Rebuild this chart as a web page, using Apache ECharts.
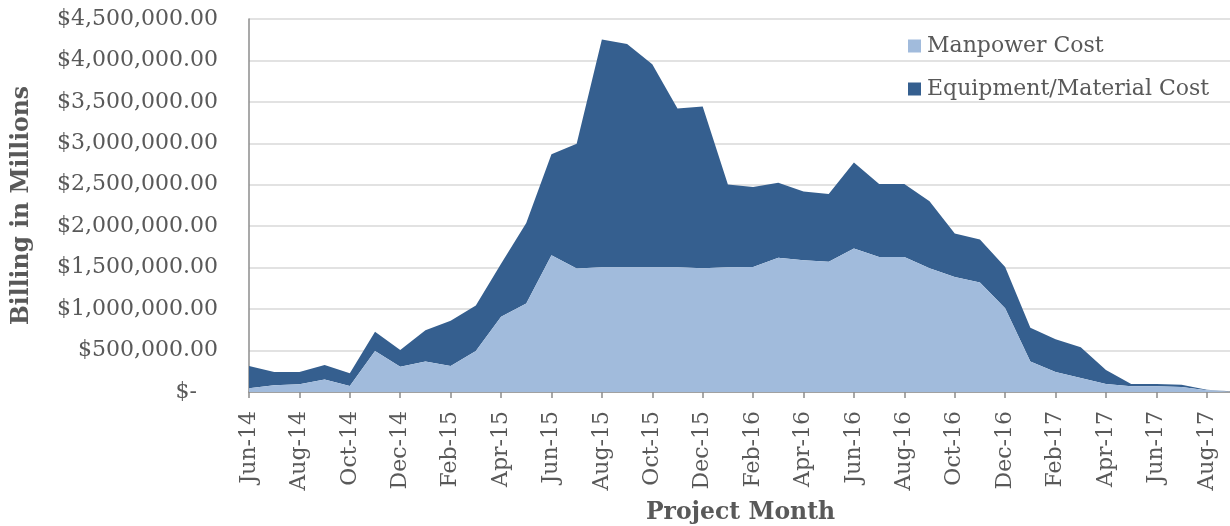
<!DOCTYPE html>
<html>
<head>
<meta charset="utf-8">
<title>Project Billing</title>
<script src="https://cdn.jsdelivr.net/npm/echarts@6/dist/echarts.min.js"></script>
<style>
  html, body { margin: 0; padding: 0; background: #ffffff; }
  #chart { width: 1230px; height: 526px; }
</style>
</head>
<body>
<div id="chart"></div>
<script>
// Project months, one point per month
const months = [
  'Jun-14','Jul-14','Aug-14','Sep-14','Oct-14','Nov-14','Dec-14','Jan-15','Feb-15','Mar-15',
  'Apr-15','May-15','Jun-15','Jul-15','Aug-15','Sep-15','Oct-15','Nov-15','Dec-15','Jan-16',
  'Feb-16','Mar-16','Apr-16','May-16','Jun-16','Jul-16','Aug-16','Sep-16','Oct-16','Nov-16',
  'Dec-16','Jan-17','Feb-17','Mar-17','Apr-17','May-17','Jun-17','Jul-17','Aug-17','Sep-17'
];

// Monthly manpower billing (USD)
const manpowerCost = [
  45000, 80000, 92000, 152000, 72000, 494000, 305000, 369000, 313000, 494000,
  909000, 1067000, 1649000, 1489000, 1505000, 1505000, 1505000, 1505000, 1493000, 1505000,
  1508000, 1620000, 1588000, 1572000, 1732000, 1628000, 1628000, 1492000, 1388000, 1320000,
  1010000, 368000, 240000, 168000, 96000, 68000, 68000, 60000, 20000, 4000
];

// Monthly equipment / material billing (USD)
const equipmentCost = [
  268000, 161000, 149000, 173000, 153000, 232000, 201000, 377000, 546000, 549000,
  637000, 972000, 1220000, 1505000, 2749000, 2693000, 2448000, 1914000, 1950000, 999000,
  964000, 904000, 832000, 816000, 1036000, 880000, 880000, 808000, 524000, 520000,
  498000, 408000, 396000, 372000, 168000, 28000, 28000, 28000, 8000, 4000
];

const seriesNames = ['Manpower Cost', 'Equipment/Material Cost'];

const FONT = '"DejaVu Serif", "Liberation Serif", serif';
const TEXT = '#595959';

function money(v) {
  if (v === 0) return '$-   ';
  return '$' + v.toLocaleString('en-US', { minimumFractionDigits: 2, maximumFractionDigits: 2 });
}

const chart = echarts.init(document.getElementById('chart'), null, { renderer: 'canvas' });

chart.setOption({
  animation: false,
  backgroundColor: '#ffffff',
  textStyle: { fontFamily: FONT, color: TEXT },
  grid: { left: 249, right: -2, top: 19, bottom: 134, containLabel: false, outerBoundsMode: 'none' },
  legend: {
    data: seriesNames,
    orient: 'vertical',
    left: 903,
    top: 30,
    itemWidth: 13,
    itemHeight: 13,
    itemGap: 21,
    icon: 'rect',
    textStyle: { fontFamily: FONT, fontSize: 22, color: TEXT, lineHeight: 22, padding: [0, 0, 0, 1] }
  },
  xAxis: {
    type: 'category',
    data: months,
    boundaryGap: false,
    name: 'Project Month',
    nameLocation: 'middle',
    nameGap: 109,
    nameMoveOverlap: false,
    nameTextStyle: { fontFamily: FONT, fontSize: 23.5, fontWeight: 'bold', color: TEXT },
    axisLine: { lineStyle: { color: '#8c8c8c', width: 1.5 } },
    axisTick: { show: true, interval: 1, length: 6, lineStyle: { color: '#8c8c8c', width: 1.5 } },
    axisLabel: {
      interval: 1,
      rotate: 90,
      margin: 19,
      fontFamily: FONT,
      fontSize: 22,
      color: TEXT
    },
    splitLine: { show: false }
  },
  yAxis: {
    type: 'value',
    min: 0,
    max: 4500000,
    interval: 500000,
    name: 'Billing in Millions',
    nameLocation: 'middle',
    nameGap: 215,
    nameMoveOverlap: false,
    nameTextStyle: { fontFamily: FONT, fontSize: 23.5, fontWeight: 'bold', color: TEXT },
    axisLine: { show: true, lineStyle: { color: '#8c8c8c', width: 1.5 } },
    axisTick: { show: false },
    axisLabel: {
      margin: 31,
      fontFamily: FONT,
      fontSize: 22,
      color: TEXT,
      formatter: money
    },
    splitLine: { show: true, lineStyle: { color: '#d9d9d9', width: 1.5 } }
  },
  series: [
    {
      name: seriesNames[0],
      type: 'line',
      stack: 'billing',
      data: manpowerCost,
      showSymbol: false,
      lineStyle: { width: 0 },
      itemStyle: { color: '#a1bbdc' },
      areaStyle: { color: '#a1bbdc', opacity: 1 },
      z: 3
    },
    {
      name: seriesNames[1],
      type: 'line',
      stack: 'billing',
      data: equipmentCost,
      showSymbol: false,
      lineStyle: { width: 0 },
      itemStyle: { color: '#355f8f' },
      areaStyle: { color: '#355f8f', opacity: 1 },
      z: 2
    }
  ]
});
</script>
</body>
</html>
